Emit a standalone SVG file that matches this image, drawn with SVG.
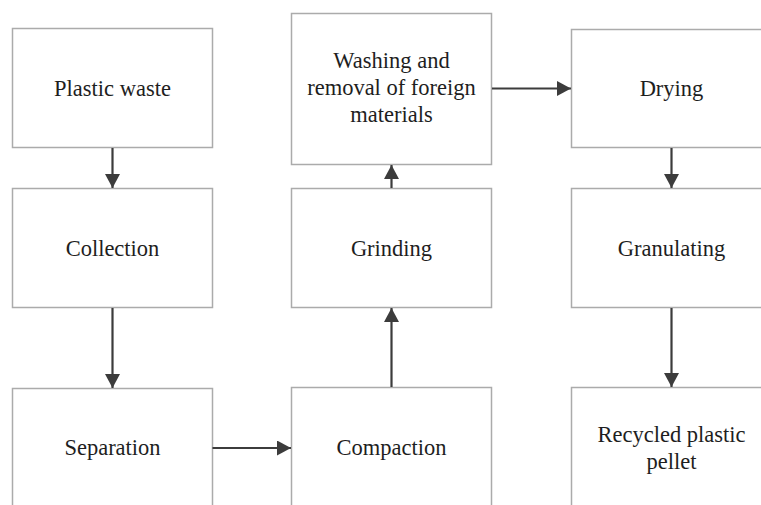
<svg xmlns="http://www.w3.org/2000/svg" width="761" height="505" viewBox="0 0 761 505">
  <defs>
    <marker id="arrow" viewBox="0 0 14 15" refX="14" refY="7.5" markerWidth="14" markerHeight="15" markerUnits="userSpaceOnUse" orient="auto">
      <path d="M0,0 L14,7.5 L0,15 Z" fill="#3c3c3c"/>
    </marker>
  </defs>
  <style>
    .box { fill: #ffffff; stroke: #ababab; stroke-width: 1.5; }
    .label { font-family: 'Liberation Serif', 'Times New Roman', Times, serif; font-size: 22.5px; fill: #1e1e1e; text-anchor: middle; }
    .edge { stroke: #3c3c3c; stroke-width: 2.2; fill: none; marker-end: url(#arrow); }
  </style>
  <rect width="761" height="505" fill="#ffffff"/>

  <g id="plastic-waste">
    <rect class="box" x="12.5" y="28.5" width="200" height="119"/>
    <text class="label" x="112.5" y="96">Plastic waste</text>
  </g>
  <g id="collection">
    <rect class="box" x="12.5" y="188.5" width="200" height="119"/>
    <text class="label" x="112.5" y="256">Collection</text>
  </g>
  <g id="separation">
    <rect class="box" x="12.5" y="388.5" width="200" height="130"/>
    <text class="label" x="112.5" y="455">Separation</text>
  </g>
  <g id="compaction">
    <rect class="box" x="291.5" y="387.5" width="200" height="130"/>
    <text class="label" x="391.5" y="455">Compaction</text>
  </g>
  <g id="grinding">
    <rect class="box" x="291.5" y="188.5" width="200" height="119"/>
    <text class="label" x="391.5" y="256">Grinding</text>
  </g>
  <g id="washing">
    <rect class="box" x="291.5" y="13.5" width="200" height="151"/>
    <text class="label" x="391.5" y="68">Washing and</text>
    <text class="label" x="391.5" y="95">removal of foreign</text>
    <text class="label" x="391.5" y="122">materials</text>
  </g>
  <g id="drying">
    <rect class="box" x="571.5" y="29.5" width="200" height="118"/>
    <text class="label" x="671.5" y="96">Drying</text>
  </g>
  <g id="granulating">
    <rect class="box" x="571.5" y="188.5" width="200" height="119"/>
    <text class="label" x="671.5" y="256">Granulating</text>
  </g>
  <g id="recycled-pellet">
    <rect class="box" x="571.5" y="387.5" width="200" height="130"/>
    <text class="label" x="671.5" y="442">Recycled plastic</text>
    <text class="label" x="671.5" y="468.5">pellet</text>
  </g>

  <g id="connectors">
    <line class="edge" x1="112.5" y1="148" x2="112.5" y2="188"/>
    <line class="edge" x1="112.5" y1="308" x2="112.5" y2="388"/>
    <line class="edge" x1="212.5" y1="448" x2="291" y2="448"/>
    <line class="edge" x1="391.5" y1="387" x2="391.5" y2="308"/>
    <line class="edge" x1="391.5" y1="188" x2="391.5" y2="165"/>
    <line class="edge" x1="492" y1="88.5" x2="571" y2="88.5"/>
    <line class="edge" x1="671.5" y1="148" x2="671.5" y2="188"/>
    <line class="edge" x1="671.5" y1="308" x2="671.5" y2="387"/>
  </g>
</svg>
